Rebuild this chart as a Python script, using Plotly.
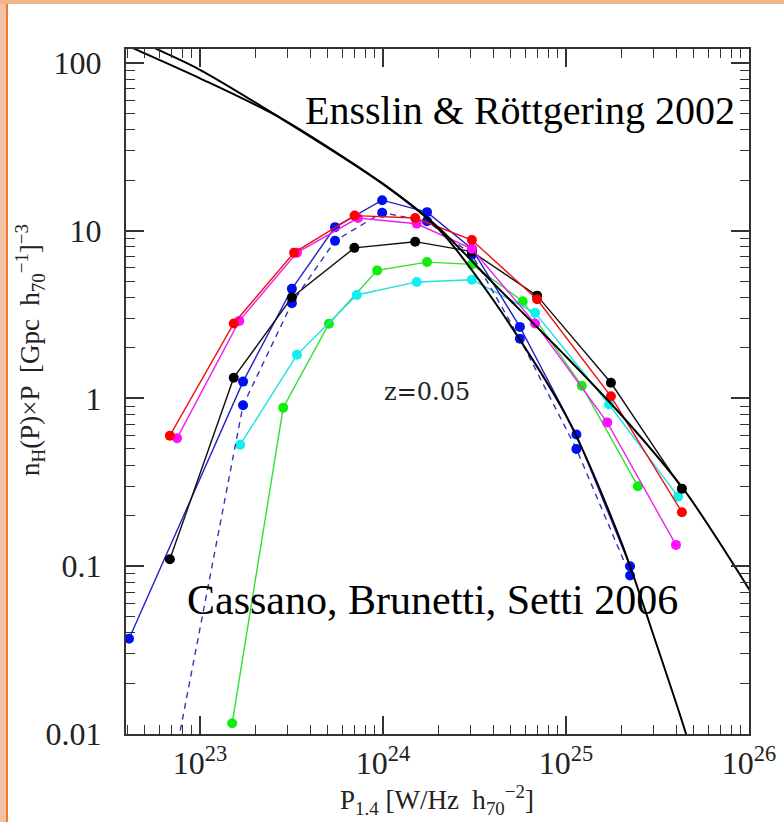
import plotly.graph_objects as go

# ---------------- data ----------------
red_P = [6.85e22, 1.53e23, 3.27e23, 7.0e23, 1.5e24, 3.06e24, 6.95e24, 1.76e25, 4.3e25]
red_y = [0.60, 2.8, 7.4, 12.3, 11.9, 8.8, 3.9, 1.03, 0.21]

mag_P = [7.5e22, 1.64e23, 3.39e23, 7.3e23, 1.53e24, 3.06e24, 6.78e24, 1.68e25, 3.99e25]
mag_y = [0.58, 2.9, 7.4, 11.9, 11.0, 7.8, 2.8, 0.72, 0.134]

blk_P = [6.85e22, 1.53e23, 3.18e23, 6.98e23, 1.5e24, 3.06e24, 6.95e24, 1.76e25, 4.3e25]
blk_y = [0.11, 1.33, 4.0, 7.9, 8.6, 7.5, 4.1, 1.24, 0.29]

blu_P = [4.1e22, 1.72e23, 3.18e23, 5.47e23, 9.9e23, 1.74e24, 3.06e24, 5.6e24, 1.14e25, 2.24e25]
blu_y = [0.037, 1.26, 4.5, 10.5, 15.2, 12.9, 7.8, 2.67, 0.61, 0.10]

bld_P = [6.85e22, 1.72e23, 3.18e23, 5.47e23, 9.9e23, 1.74e24, 3.06e24, 5.6e24, 1.14e25, 2.24e25]
bld_y = [0.005, 0.91, 3.7, 8.7, 12.8, 11.4, 7.2, 2.27, 0.50, 0.088]

grn_P = [1.5e23, 2.85e23, 5.07e23, 9.3e23, 1.74e24, 3.06e24, 5.8e24, 1.22e25, 2.47e25]
grn_y = [0.0116, 0.88, 2.79, 5.8, 6.5, 6.3, 3.8, 1.19, 0.30]

cyn_P = [1.66e23, 3.39e23, 7.2e23, 1.53e24, 3.06e24, 6.78e24, 1.72e25, 4.1e25]
cyn_y = [0.53, 1.82, 4.14, 4.95, 5.1, 3.24, 0.92, 0.26]

modA_P = [3.55e22, 4.42e22, 1.0e23, 2.75e23, 1.0e24, 2.0e24, 3.98e24, 1.0e25, 2.0e25, 4.47e25, 1.12e26]
modA_y = [135, 121, 81, 47, 19, 10.5, 4.9, 1.78, 0.80, 0.28, 0.060]

modB_P = [4.47e22, 5.82e22, 1.0e23, 2.75e23, 1.0e24, 2.0e24, 3.98e24, 1.0e25, 2.0e25, 3.16e25, 4.53e25, 6.31e25]
modB_y = [140, 121, 91, 47, 19, 10.3, 3.9, 0.79, 0.14, 0.033, 0.01, 0.0028]

x_tickvals = [1e23, 1e24, 1e25, 1e26]
x_ticktext = ["10<sup>23</sup>", "10<sup>24</sup>", "10<sup>25</sup>", "10<sup>26</sup>"]
y_tickvals = [0.01, 0.1, 1, 10, 100]
y_ticktext = ["0.01", "0.1", "1", "10", "100"]

# ---------------- figure ----------------
fig = go.Figure()

def series(P, y, color, lcolor=None, dash="solid"):
    fig.add_trace(go.Scatter(
        x=P, y=y, mode="lines+markers",
        line=dict(color=lcolor or color, width=1.4, dash=dash),
        marker=dict(color=color, size=10, line=dict(width=0)),
        showlegend=False, hoverinfo="skip"))

series(grn_P, grn_y, "#10ee10", "#30e030")
series(cyn_P, cyn_y, "#10f0f0", "#20e0e0")
series(bld_P, bld_y, "#0010ee", "#3333bb", dash="6px,5px")
series(blu_P, blu_y, "#0010ee", "#2020cc")
series(blk_P, blk_y, "#000000", "#111111")
series(mag_P, mag_y, "#ff10ff", "#ee20ee")
series(red_P, red_y, "#ff0000", "#ee1010")

for P, y in [(modA_P, modA_y), (modB_P, modB_y)]:
    fig.add_trace(go.Scatter(
        x=P, y=y, mode="lines",
        line=dict(color="#000000", width=2, shape="spline", smoothing=0.8),
        showlegend=False, hoverinfo="skip"))

L, R, T, B = 126, 749, 49, 734
W, H = 784, 822
pw, ph = R - L, B - T

def px(x):
    return (x - L) / pw

def py(y):
    return (B - y) / ph

XR = [22.596, 26.0]
YR = [-2.0, 2.083]
TC = "#333333"
NB = "\u00a0"
tickfont = dict(family="Liberation Serif", size=32, color="#222222")
x_minor = [float(m) * 10.0 ** e for e in range(22, 26) for m in range(2, 10)
           if 10.0 ** 22.596 <= float(m) * 10.0 ** e <= 1e26]
y_minor = [float(m) * 10.0 ** e for e in range(-2, 2) for m in range(2, 10)]

axis_common = dict(
    type="log", showgrid=False, zeroline=False, automargin=False,
    showline=True, linecolor=TC, linewidth=2, mirror="allticks",
    tickmode="array",
    ticks="inside", ticklen=18, tickwidth=1.6, tickcolor=TC,
    tickfont=tickfont,
)

fig.update_xaxes(**axis_common, range=XR,
                 tickvals=x_tickvals, ticktext=x_ticktext,
                 minor=dict(tickmode="array", tickvals=x_minor, ticks="inside",
                            ticklen=9, tickwidth=1.4, tickcolor=TC, showgrid=False))
fig.update_yaxes(**axis_common, range=YR,
                 tickvals=y_tickvals, ticktext=[t + NB * 2 for t in y_ticktext],
                 minor=dict(tickmode="array", tickvals=y_minor, ticks="inside",
                            ticklen=9, tickwidth=1.4, tickcolor=TC, showgrid=False))

annotations = [
    dict(text="Ensslin &amp; Röttgering 2002", x=px(303), y=py(110),
         xanchor="left", yanchor="middle",
         font=dict(family="Liberation Serif", size=40, color="#000000")),
    dict(text="Cassano, Brunetti, Setti 2006", x=px(185), y=py(600),
         xanchor="left", yanchor="middle",
         font=dict(family="Liberation Serif", size=42, color="#000000")),
    dict(text="z=0.05", x=px(427), y=py(392), xanchor="center", yanchor="middle",
         font=dict(family="DejaVu Serif", size=24, color="#222222")),
    dict(text="P<sub>1.4</sub> [W/Hz  h<sub>70</sub><sup>−2</sup>]",
         x=px(437), y=py(800), xanchor="center", yanchor="middle",
         font=dict(family="Liberation Serif", size=27, color="#222222")),
    dict(text="n<sub>H</sub>(P)×P  [Gpc  h<sub>70</sub><sup>−1</sup>]<sup>−3</sup>",
         x=px(30), y=py(350), xanchor="center", yanchor="middle", textangle=-90,
         font=dict(family="Liberation Serif", size=27, color="#222222")),
]
for a in annotations:
    a.update(xref="paper", yref="paper", showarrow=False)

shapes = [
    dict(type="rect", xref="paper", yref="paper", x0=px(0), x1=px(W),
         y0=py(4), y1=py(0), fillcolor="#f2b48a", line=dict(width=0), layer="below"),
    dict(type="rect", xref="paper", yref="paper", x0=px(0), x1=px(6),
         y0=py(H), y1=py(4), fillcolor="#f2c2a4", line=dict(width=0), layer="below"),
    dict(type="line", xref="paper", yref="paper", x0=px(7), x1=px(7),
         y0=py(H), y1=py(4), line=dict(color="#f07a30", width=2), layer="below"),
]

fig.update_layout(
    width=W, height=H,
    margin=dict(l=L, r=W - R, t=T, b=H - B, pad=0, autoexpand=False),
    paper_bgcolor="white", plot_bgcolor="white",
    annotations=annotations, shapes=shapes,
)

fig.write_html("out.html")
